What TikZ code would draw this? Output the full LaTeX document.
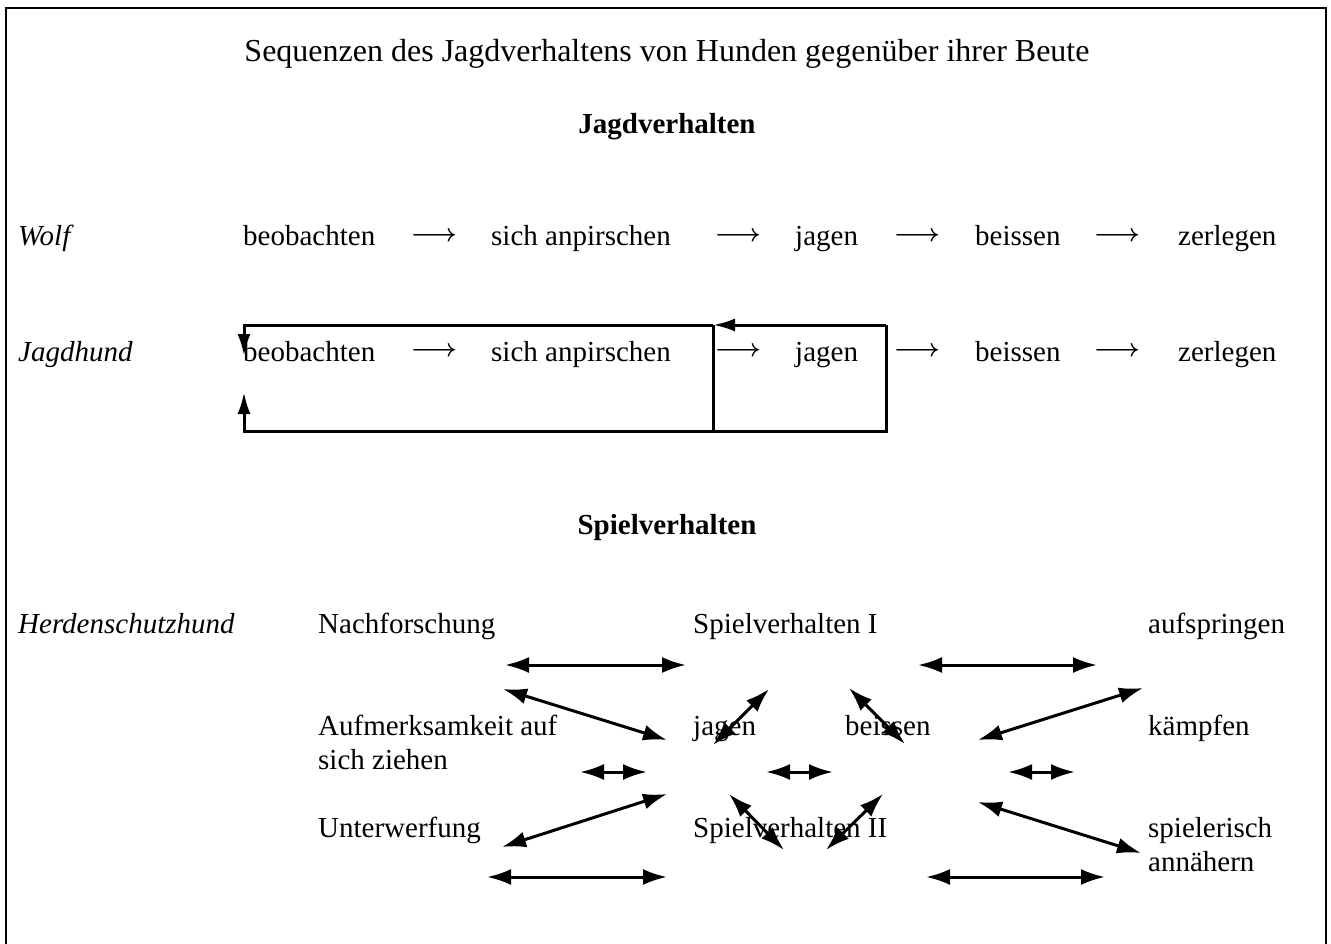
\documentclass[tikz,border=0pt]{standalone}
\usepackage{amsmath}
\usepackage{fontspec}
\setmainfont{Liberation Serif}
\usetikzlibrary{arrows.meta}

\begin{document}
\begin{tikzpicture}[x=1pt,y=-1pt,
    every node/.style={inner sep=0pt,font=\fontsize{29}{34}\selectfont},
    wort/.style={anchor=base west},
    kopf/.style={anchor=base},
    pfeil/.style={anchor=center},
    rueck/.style={line width=3pt,-{Latex[length=22pt,width=13pt]}},
    spiel/.style={line width=3pt,{Latex[length=24pt,width=16pt]}-{Latex[length=24pt,width=16pt]}}]
      \useasboundingbox (0,0) rectangle (1331,944);
      \draw[line width=2.5pt] (6,944) -- (6,8) -- (1326,8) -- (1326,944);

      \node[kopf,font=\fontsize{32}{38}\selectfont] (titel) at (667,62) {Sequenzen des Jagdverhaltens von Hunden gegenüber ihrer Beute};
      \node[kopf] (jagd) at (667,134) {\bfseries Jagdverhalten};
      \node[kopf] (spielv) at (667,534) {\bfseries Spielverhalten};

      % Wolf
      \node[wort] (wolf) at (18,246) {\itshape Wolf};
      \node[wort] (w1) at (243,246) {beobachten};
      \node[pfeil] (wp1) at (434,237) {$\boldsymbol{\longrightarrow}$};
      \node[wort] (w2) at (491,246) {sich anpirschen};
      \node[pfeil] (wp2) at (738,237) {$\boldsymbol{\longrightarrow}$};
      \node[wort] (w3) at (795,246) {jagen};
      \node[pfeil] (wp3) at (917,237) {$\boldsymbol{\longrightarrow}$};
      \node[wort] (w4) at (975,246) {beissen};
      \node[pfeil] (wp4) at (1117,237) {$\boldsymbol{\longrightarrow}$};
      \node[wort] (w5) at (1178,246) {zerlegen};

      % Jagdhund
      \node[wort] (hund) at (18,361) {\itshape Jagdhund};
      \node[wort] (h1) at (243,361) {beobachten};
      \node[pfeil] (hp1) at (434,352) {$\boldsymbol{\longrightarrow}$};
      \node[wort] (h2) at (491,361) {sich anpirschen};
      \node[pfeil] (hp2) at (738,352) {$\boldsymbol{\longrightarrow}$};
      \node[wort] (h3) at (795,361) {jagen};
      \node[pfeil] (hp3) at (917,352) {$\boldsymbol{\longrightarrow}$};
      \node[wort] (h4) at (975,361) {beissen};
      \node[pfeil] (hp4) at (1117,352) {$\boldsymbol{\longrightarrow}$};
      \node[wort] (h5) at (1178,361) {zerlegen};

      \coordinate (lt) at (244,325);
      \coordinate (mt) at (713,325);
      \coordinate (rt) at (886,325);
      \coordinate (lb) at (244,431);
      \coordinate (mb) at (713,431);
      \coordinate (rb) at (886,431);
      \coordinate (ld) at (244,356);
      \coordinate (lu) at (244,392);
      \draw[rueck] (rt) -- (mt);
      \draw[rueck] (mt) -- (lt) -- (ld);
      \draw[line width=3pt] (mt) -- (mb);
      \draw[rueck] (rt) -- (rb) -- (lb) -- (lu);

      % Herdenschutzhund
      \node[wort] (herde) at (18,633) {\itshape Herdenschutzhund};
      \node[wort] (nach) at (318,633) {Nachforschung};
      \node[wort] (spiel1) at (693,633) {Spielverhalten I};
      \node[wort] (auf) at (1148,633) {aufspringen};
      \node[wort,align=left] (aufm) at (318,769) {Aufmerksamkeit auf\\sich ziehen};
      \node[wort] (jagen) at (693,735) {jagen};
      \node[wort] (beissen) at (845,735) {beissen};
      \node[wort] (kampf) at (1148,735) {kämpfen};
      \node[wort] (unter) at (318,837) {Unterwerfung};
      \node[wort] (spiel2) at (693,837) {Spielverhalten II};
      \node[wort,align=left] (spielan) at (1148,871) {spielerisch\\annähern};

      \foreach \n/\xa/\ya/\xb/\yb in {1/505/665/686/665, 2/503/689/667/740, 3/713/745/769/689,
          4/849/688/905/744, 5/918/665/1097/665, 6/978/740/1143/688,
          7/580/772/647/772, 8/766/772/833/772, 9/1008/772/1075/772,
          10/502/847/667/794, 11/729/794/784/850, 12/826/850/883/794,
          13/978/802/1141/853, 14/487/877/667/877, 15/926/877/1105/877}{
        \coordinate (a\n) at (\xa,\ya);
        \coordinate (b\n) at (\xb,\yb);
        \draw[spiel] (a\n) -- (b\n);
      }
\end{tikzpicture}
\end{document}
